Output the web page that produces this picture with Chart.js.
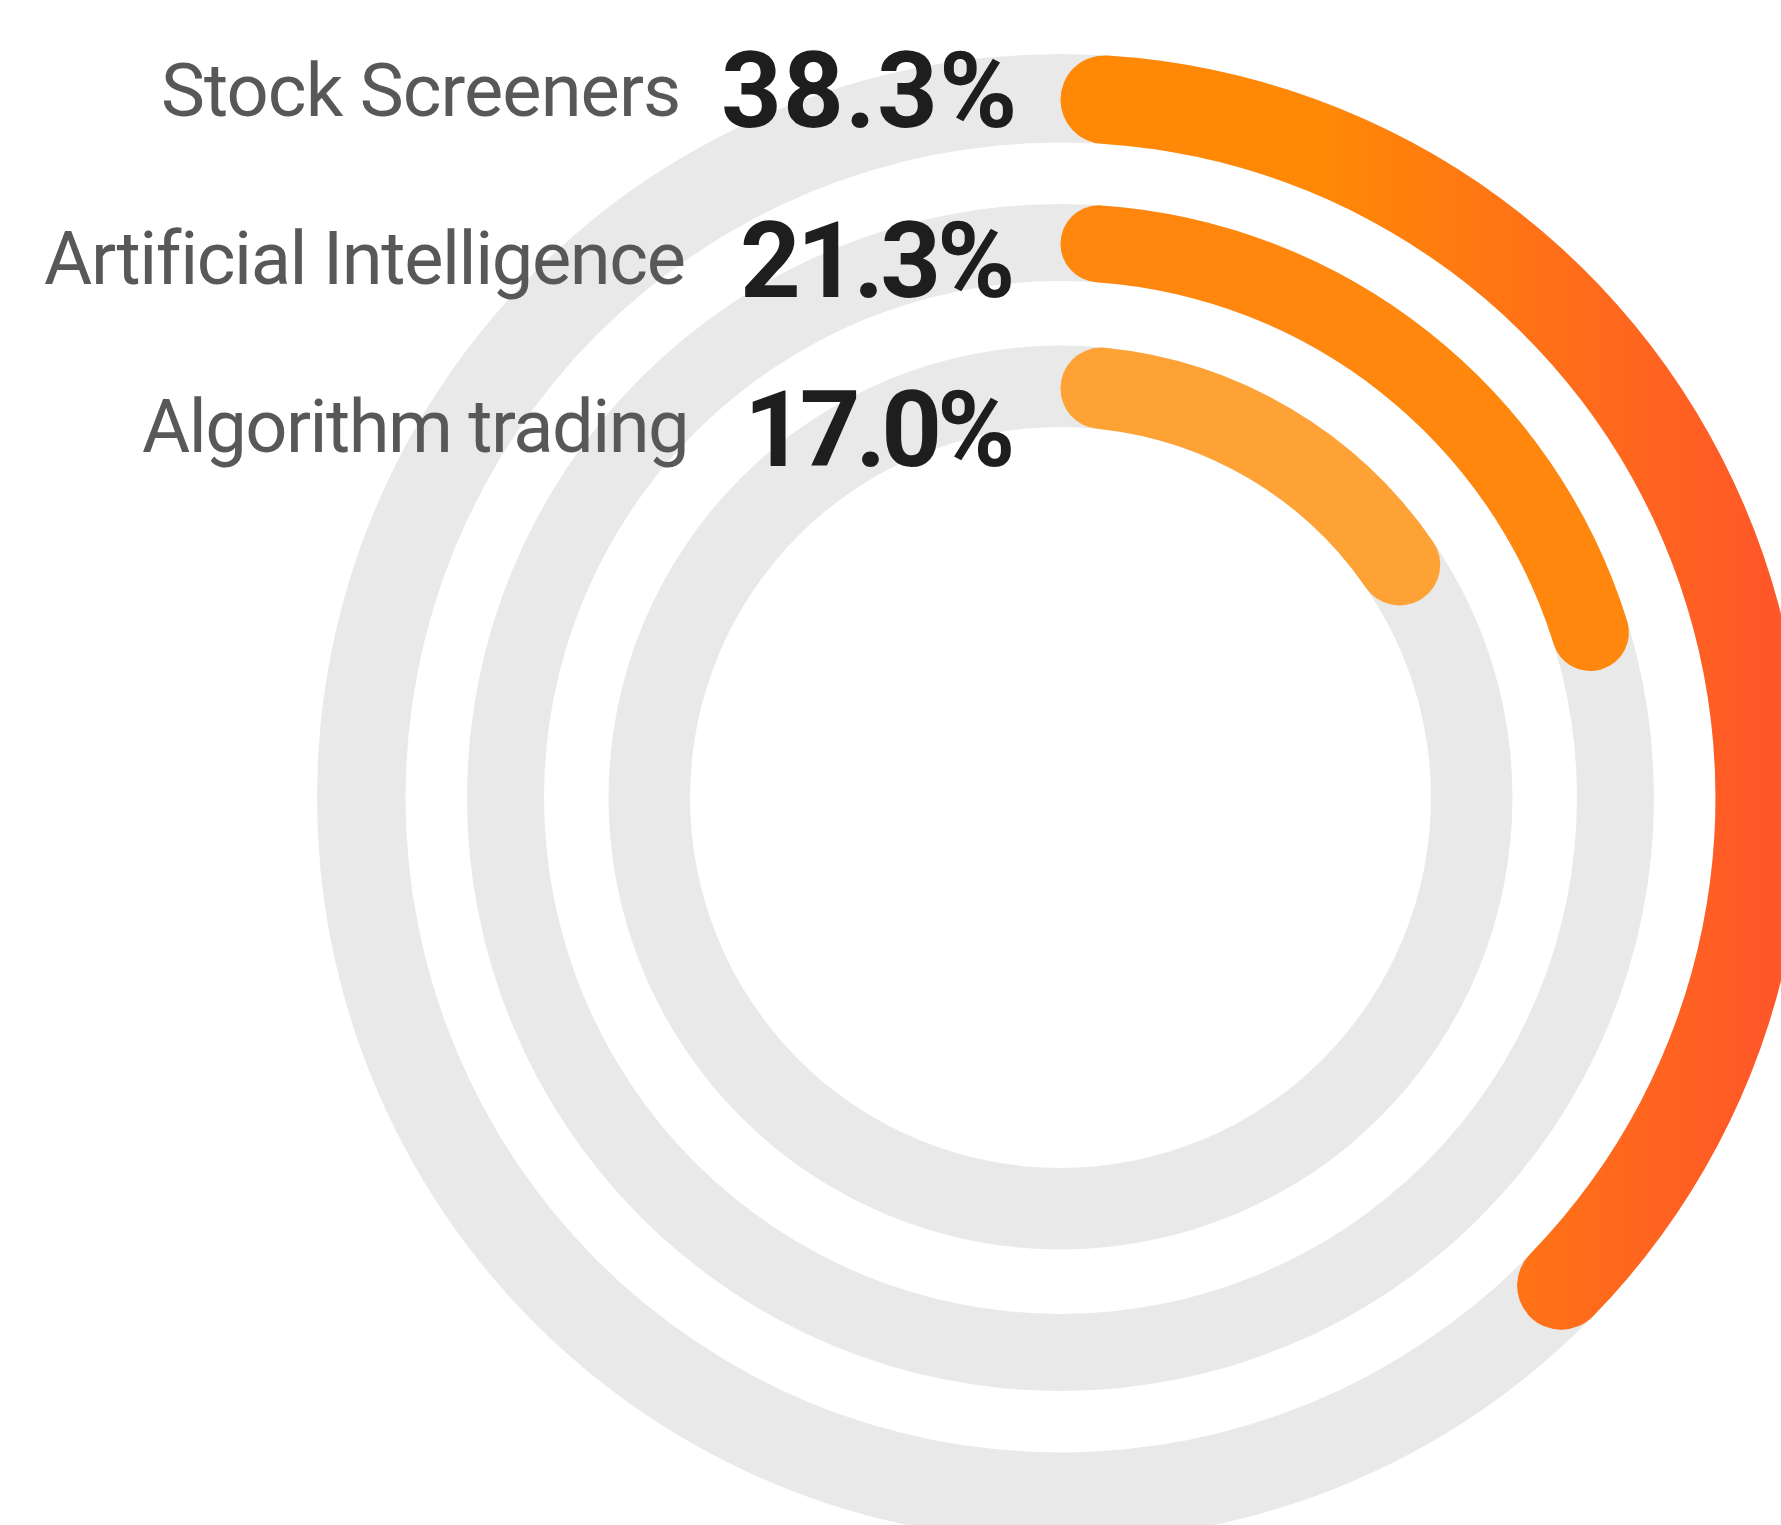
<!DOCTYPE html>
<html>
<head>
<meta charset="utf-8">
<script src="https://cdn.jsdelivr.net/npm/chart.js@4.4.1/dist/chart.umd.min.js"></script>
<style>
  html, body { margin: 0; padding: 0; background: #ffffff; overflow: hidden; width: 1781px; height: 1525px; }
  #wrap { position: absolute; left: 0; top: 0; width: 1804px; height: 1541px; }
</style>
</head>
<body>
<div id="wrap"><canvas id="chart"></canvas></div>
<script>
// ---- data ----
const categories = ['Stock Screeners', 'Artificial Intelligence', 'Algorithm trading'];
const shares = [38.3, 21.3, 17.0];
const shareLabels = ['38.3%', '21.3%', '17.0%'];
const scaleMax = 100;

// ---- style / layout ----
const STYLE = {
  track: '#E8E9E8',
  ringColors: ['gradient', '#FF870D', '#FFA236'],
  gradFrom: '#FF8806',
  gradTo: '#FF5828',
  ringThickness: [88.5, 77, 81.5],
  ringGaps: [61.5, 64.5],
  cutout: '49.83%',
  labelColor: '#585858',
  valueColor: '#1E1E1E',
  labelFont: '400 74px Roboto',
  valueFont: '700 106px Roboto',
  // ink extents [left, right] of each text row
  labelInk: [[163, 678], [45, 681], [143, 685]],
  valueInk: [[724, 1013], [743, 1011], [752, 1011]],
  labelBase0: 116.2,
  labelStep: 167.8,
  valueBase0: 127.3,
  valueStep: 169.2
};

function ringColor(i) {
  return (ctx) => {
    if (ctx.dataIndex !== 0) return 'rgba(0,0,0,0)';
    if (STYLE.ringColors[i] !== 'gradient') return STYLE.ringColors[i];
    const chart = ctx.chart;
    const a = chart.chartArea;
    if (!a) return STYLE.gradFrom;
    const cx = (a.left + a.right) / 2;
    const R = Math.min(a.right - a.left, a.bottom - a.top) / 2;
    const g = chart.ctx.createLinearGradient(cx + 0.362 * R, 0, cx + 0.94 * R, 0);
    g.addColorStop(0, STYLE.gradFrom);
    g.addColorStop(1, STYLE.gradTo);
    return g;
  };
}

const datasets = [];
categories.forEach((name, i) => {
  datasets.push({
    label: name,
    data: [shares[i], scaleMax - shares[i]],
    backgroundColor: ringColor(i),
    borderWidth: 0,
    hoverBorderWidth: 0,
    borderRadius: (ctx) => ctx.dataIndex === 0 ? 500 : 0,
    weight: STYLE.ringThickness[i],
    isRing: true
  });
  if (i < categories.length - 1) {
    datasets.push({
      label: 'gap' + i,
      data: [scaleMax],
      backgroundColor: 'rgba(0,0,0,0)',
      borderWidth: 0,
      hoverBorderWidth: 0,
      weight: STYLE.ringGaps[i],
      isRing: false
    });
  }
});

const trackPlugin = {
  id: 'track',
  beforeDatasetsDraw(chart) {
    const c = chart.ctx;
    chart.data.datasets.forEach((ds, di) => {
      if (!ds.isRing) return;
      const el = chart.getDatasetMeta(di).data[0];
      if (!el) return;
      const { x, y, innerRadius, outerRadius } = el.getProps(['x', 'y', 'innerRadius', 'outerRadius'], true);
      c.save();
      c.beginPath();
      c.arc(x, y, outerRadius, 0, Math.PI * 2);
      c.arc(x, y, innerRadius, 0, Math.PI * 2, true);
      c.closePath();
      c.fillStyle = STYLE.track;
      c.fill();
      c.restore();
    });
  }
};

function fitText(c, text, font, color, ink, baseline) {
  c.font = font;
  c.fillStyle = color;
  c.textAlign = 'left';
  c.textBaseline = 'alphabetic';
  c.letterSpacing = '0px';
  let m = c.measureText(text);
  const inkW = m.actualBoundingBoxRight + m.actualBoundingBoxLeft;
  const target = ink[1] - ink[0];
  const ls = (target - inkW) / Math.max(text.length - 1, 1);
  c.letterSpacing = ls.toFixed(2) + 'px';
  m = c.measureText(text);
  c.fillText(text, ink[0] + m.actualBoundingBoxLeft, baseline);
}

const labelPlugin = {
  id: 'ringLabels',
  afterDraw(chart) {
    const c = chart.ctx;
    c.save();
    categories.forEach((name, i) => {
      fitText(c, name, STYLE.labelFont, STYLE.labelColor, STYLE.labelInk[i], STYLE.labelBase0 + STYLE.labelStep * i);
      fitText(c, shareLabels[i], STYLE.valueFont, STYLE.valueColor, STYLE.valueInk[i], STYLE.valueBase0 + STYLE.valueStep * i);
    });
    c.restore();
  }
};

new Chart(document.getElementById('chart'), {
  type: 'doughnut',
  data: { labels: ['value', 'rest'], datasets },
  options: {
    responsive: true,
    maintainAspectRatio: false,
    animation: false,
    events: [],
    cutout: STYLE.cutout,
    rotation: 0,
    circumference: 360,
    layout: { padding: { left: 317, top: 54, right: 0, bottom: 0 } },
    elements: { arc: { borderWidth: 0, offset: 0, hoverOffset: 0 } },
    plugins: { legend: { display: false }, tooltip: { enabled: false } }
  },
  plugins: [trackPlugin, labelPlugin]
});
</script>
</body>
</html>
